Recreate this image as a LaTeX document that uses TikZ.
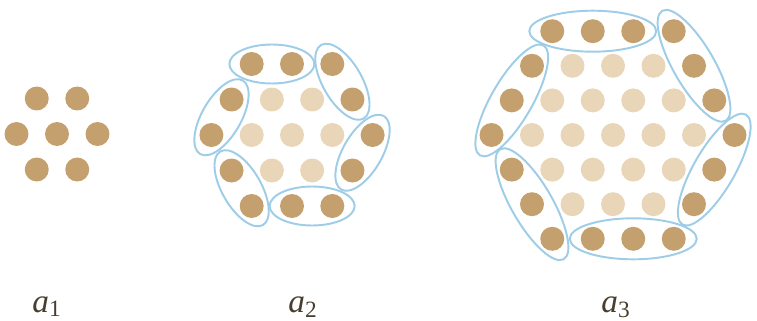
\documentclass[tikz,border=0pt]{standalone}
\usepackage{fontspec}
\setmainfont{Liberation Serif}
\usetikzlibrary{positioning,calc,shapes.geometric}

\definecolor{tandark}{RGB}{197,160,111}
\definecolor{tanlight}{RGB}{233,213,184}
\definecolor{ringblue}{RGB}{158,205,232}
\definecolor{lbltext}{RGB}{72,62,46}

\begin{document}
\begin{tikzpicture}[
  x=0.02cm, y=-0.02cm,
  dotD/.style={circle, fill=tandark, minimum size=0.48cm, inner sep=0pt},
  dotL/.style={circle, fill=tanlight, minimum size=0.48cm, inner sep=0pt},
  pair/.style={ellipse, draw=ringblue, line width=1.1pt, inner sep=0pt, minimum width=1.70cm, minimum height=0.78cm},
  triple/.style={ellipse, draw=ringblue, line width=1.1pt, inner sep=0pt, minimum width=2.54cm, minimum height=0.82cm},
  lbl/.style={font=\fontsize{19}{22}\selectfont, text=lbltext, anchor=base, inner sep=0pt}
]

\fill[white] (0,0) rectangle (757,321);
\useasboundingbox (0,0) rectangle (757,321);

% --- $a_1$: seven dots ---
\foreach \i in {1,2,3} {
  \pgfmathtruncatemacro\cnt{3-abs(\i-2)}
  \foreach \k in {1,...,\cnt} {
    \pgfmathsetmacro\xx{57+(\k-1-(\cnt-1)/2)*40.5}
    \pgfmathsetmacro\yy{134+(\i-2)*35.5}
    \node[dotD] (a1-\i-\k) at (\xx,\yy) {};
  }
}

% --- $a_2$: hexagon of side 3, outer ring dark ---
\foreach \i in {1,...,5} {
  \pgfmathtruncatemacro\cnt{5-abs(\i-3)}
  \foreach \k in {1,...,\cnt} {
    \pgfmathsetmacro\xx{292+(\k-1-(\cnt-1)/2)*40.3}
    \pgfmathsetmacro\yy{135+(\i-3)*35.5}
    \pgfmathtruncatemacro\edge{(\i==1)||(\i==5)||(\k==1)||(\k==\cnt)}
    \ifnum\edge=1 \def\dotst{dotD}\else\def\dotst{dotL}\fi
    \node[\dotst] (a2-\i-\k) at (\xx,\yy) {};
  }
}

% --- $a_3$: hexagon of side 4 ---
\foreach \i in {1,...,7} {
  \pgfmathtruncatemacro\cnt{7-abs(\i-4)}
  \foreach \k in {1,...,\cnt} {
    \pgfmathsetmacro\xx{613+(\k-1-(\cnt-1)/2)*40.5}
    \pgfmathsetmacro\yy{135+(\i-4)*34.6}
    \pgfmathtruncatemacro\edge{(\i==1)||(\i==7)||(\k==1)||(\k==\cnt)}
    \ifnum\edge=1 \def\dotst{dotD}\else\def\dotst{dotL}\fi
    \node[\dotst] (a3-\i-\k) at (\xx,\yy) {};
  }
}

% --- blue rings round the outer dots of $a_2$ ---
\node[pair]             (r2t)  at ($(a2-1-1)!0.5!(a2-1-2)$) {};
\node[pair, rotate=-60] (r2tr) at ($(a2-1-3)!0.5!(a2-2-4)$) {};
\node[pair, rotate=60]  (r2r)  at ($(a2-3-5)!0.5!(a2-4-4)$) {};
\node[pair]             (r2b)  at ($(a2-5-3)!0.5!(a2-5-2)$) {};
\node[pair, rotate=-60] (r2bl) at ($(a2-5-1)!0.5!(a2-4-1)$) {};
\node[pair, rotate=60]  (r2l)  at ($(a2-3-1)!0.5!(a2-2-1)$) {};

% --- blue rings round the outer dots of $a_3$ ---
\node[triple]             (r3t)  at (a3-1-2) {};
\node[triple, rotate=-60] (r3tr) at (a3-2-5) {};
\node[triple, rotate=60]  (r3r)  at (a3-5-6) {};
\node[triple]             (r3b)  at (a3-7-3) {};
\node[triple, rotate=-60] (r3bl) at (a3-6-1) {};
\node[triple, rotate=60]  (r3l)  at (a3-3-1) {};

% --- labels ---
\node[lbl] (lbl1) at (47,312) {\textit{a}\textsubscript{1}};
\node[lbl] (lbl2) at (303,312) {\textit{a}\textsubscript{2}};
\node[lbl] (lbl3) at (616,312) {\textit{a}\textsubscript{3}};

\end{tikzpicture}
\end{document}
